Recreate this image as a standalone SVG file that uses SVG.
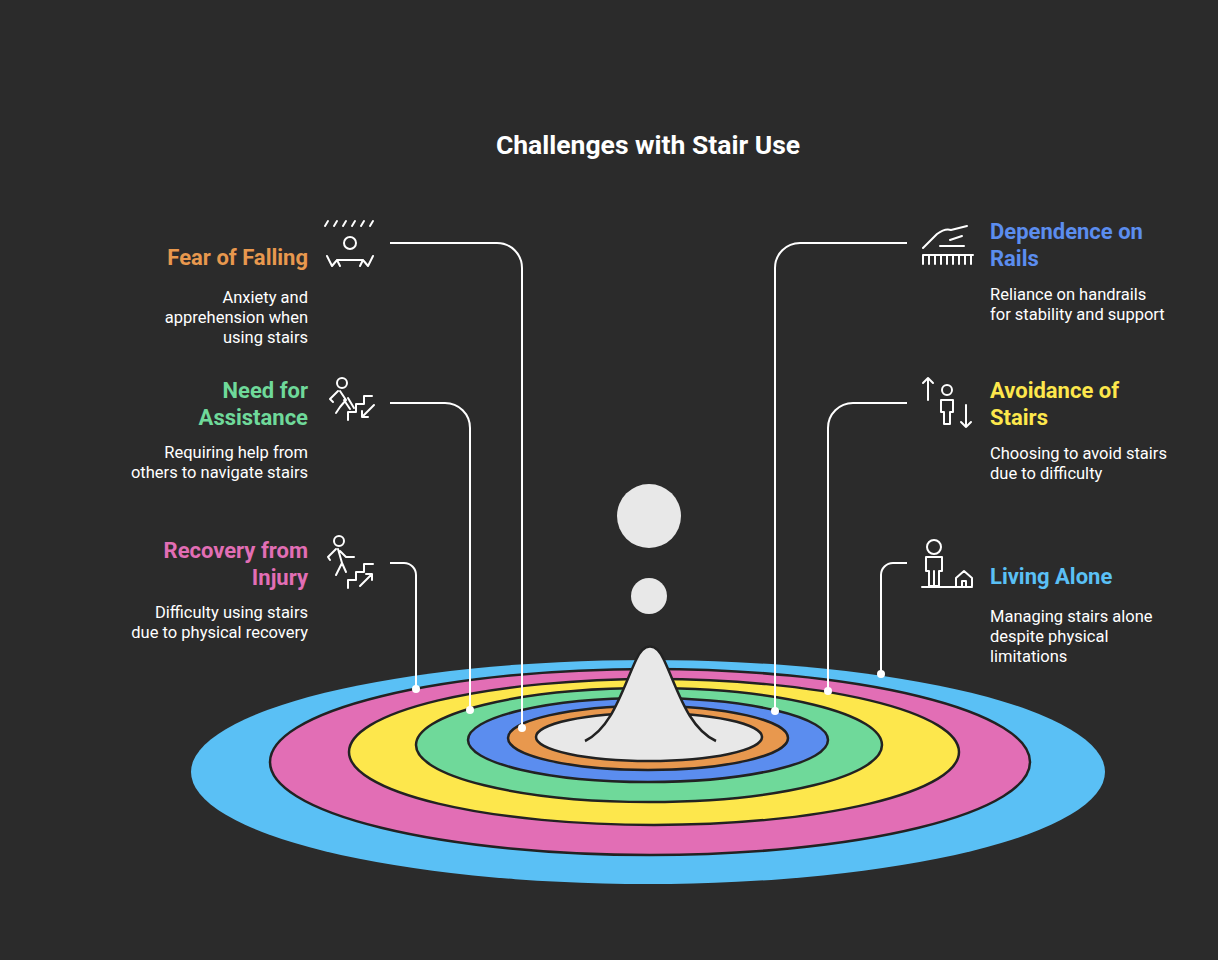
<svg xmlns="http://www.w3.org/2000/svg" width="1218" height="960" viewBox="0 0 1218 960">
<style>
.t{font-family:Roboto,"Liberation Sans",sans-serif;font-weight:700;font-size:22px}
.d{font-family:Roboto,"Liberation Sans",sans-serif;font-size:16.5px;fill:#fff}
.r{text-anchor:end}
.ring{stroke:#222;stroke-width:2.5}
.ln{fill:none;stroke:#fff;stroke-width:2}
.ic{fill:none;stroke:#fff;stroke-width:2;stroke-linecap:round;stroke-linejoin:round}
</style>
<rect width="1218" height="960" fill="#2b2b2b"/>
<text x="648" y="154" text-anchor="middle" class="t" style="font-size:26.5px" fill="#fff">Challenges with Stair Use</text>
<g id="rings">
<ellipse cx="648" cy="772" rx="457" ry="112" fill="#5AC0F5"/>
<ellipse class="ring" cx="650" cy="762" rx="380" ry="93" fill="#E26EB5"/>
<ellipse class="ring" cx="654" cy="752" rx="305" ry="73" fill="#FDE74C"/>
<ellipse class="ring" cx="649" cy="745" rx="233" ry="57" fill="#6FD99A"/>
<ellipse class="ring" cx="648" cy="740" rx="180" ry="42" fill="#5B8DEF"/>
<ellipse class="ring" cx="648" cy="738" rx="140" ry="32" fill="#E8984E"/>
<ellipse class="ring" cx="649" cy="737" rx="113" ry="24" fill="#E8E8E8"/>
<path d="M585,741 C612,728 622,690 636,660 C644,642 656,642 664,660 C678,690 688,728 716,741" fill="#E8E8E8" stroke="#222" stroke-width="2.5"/>
<path d="M590,741 L712,741 L712,746 L590,746Z" fill="#E8E8E8"/>
<circle cx="649" cy="516" r="32" fill="#E8E8E8"/>
<circle cx="649" cy="596" r="18" fill="#E8E8E8"/>
</g>
<g id="connectors">
<path class="ln" d="M390,243 H497 A25,25 0 0 1 522,268 V728"/>
<path class="ln" d="M390,403 H445 A25,25 0 0 1 470,428 V710"/>
<path class="ln" d="M390,563 H404 A12,12 0 0 1 416,575 V689"/>
<path class="ln" d="M907,243 H800 A25,25 0 0 0 775,268 V711"/>
<path class="ln" d="M907,403 H853 A25,25 0 0 0 828,428 V691"/>
<path class="ln" d="M907,563 H893 A12,12 0 0 0 881,575 V674"/>
<g fill="#fff"><circle cx="522" cy="728" r="4"/><circle cx="470" cy="710" r="4"/><circle cx="416" cy="689" r="4"/><circle cx="775" cy="711" r="4"/><circle cx="828" cy="691" r="4"/><circle cx="881" cy="674" r="4"/></g>
</g>
<g id="fear">
<text x="308" y="265" class="t r" fill="#E8984E">Fear of Falling</text>
<text x="308" y="303" class="d r">Anxiety and</text><text x="308" y="323" class="d r">apprehension when</text><text x="308" y="343" class="d r">using stairs</text>
<g class="ic"><path d="M325,226l3,-5M334,226l3,-5M343,226l3,-5M352,226l3,-5M361,226l3,-5M370,226l3,-5"/><circle cx="350" cy="243" r="6"/><path d="M327,256l5,10l5,-6h26l5,6l5,-10M337,260l3,6M363,260l-3,6"/></g>
</g>
<g id="assist">
<text x="308" y="398" class="t r" fill="#6FD99A">Need for</text><text x="308" y="425" class="t r" fill="#6FD99A">Assistance</text>
<text x="308" y="458" class="d r">Requiring help from</text><text x="308" y="478" class="d r">others to navigate stairs</text>
<g class="ic"><circle cx="342" cy="383" r="5"/><path d="M338,391l-8,8l3,3M340,391l6,9l-6,7l-4,6M344,400l6,9M348,398l6,10M348,420v-8h8v-8h8v-8h8M374,405l-12,12M362,411v6h6"/></g>
</g>
<g id="recovery">
<text x="308" y="558" class="t r" fill="#E26EB5">Recovery from</text><text x="308" y="585" class="t r" fill="#E26EB5">Injury</text>
<text x="308" y="618" class="d r">Difficulty using stairs</text><text x="308" y="638" class="d r">due to physical recovery</text>
<g class="ic"><circle cx="339" cy="541" r="5"/><path d="M336,549l-8,8l2,3M338,549l4,14l-6,12M342,563l4,9M340,551l6,6h8M348,588v-8h8v-8h8v-8h9M360,586l12,-12M366,574h6v6"/></g>
</g>
<g id="rails">
<text x="990" y="239" class="t" fill="#5B8DEF">Dependence on</text><text x="990" y="266" class="t" fill="#5B8DEF">Rails</text>
<text x="990" y="300" class="d">Reliance on handrails</text><text x="990" y="320" class="d">for stability and support</text>
<g class="ic"><path d="M923,255h50M923,255v9M929,255v9M935,255v9M941,255v9M947,255v9M953,255v9M959,255v9M965,255v9M971,255v9M923,248l14,-14q8,-6 14,-4l16,-4M950,240l12,-4M940,246h24"/></g>
</g>
<g id="avoid">
<text x="990" y="398" class="t" fill="#FDE74C">Avoidance of</text><text x="990" y="425" class="t" fill="#FDE74C">Stairs</text>
<text x="990" y="459" class="d">Choosing to avoid stairs</text><text x="990" y="479" class="d">due to difficulty</text>
<g class="ic"><path d="M928,400v-22M923,383l5,-5l5,5M966,405v22M961,422l5,5l5,-5"/><circle cx="947" cy="390" r="5"/><path d="M941,400h12v12h-3v12h-6v-12h-3z"/></g>
</g>
<g id="alone">
<text x="990" y="584" class="t" fill="#5AC0F5">Living Alone</text>
<text x="990" y="622" class="d">Managing stairs alone</text><text x="990" y="642" class="d">despite physical</text><text x="990" y="662" class="d">limitations</text>
<g class="ic"><circle cx="934" cy="547" r="7"/><path d="M926,557h16v14h-3v15h-10v-15h-3zM934,571v15M922,587h50M956,586v-8l8,-7l8,7v8M962,586v-5h4v5"/></g>
</g>
</svg>
